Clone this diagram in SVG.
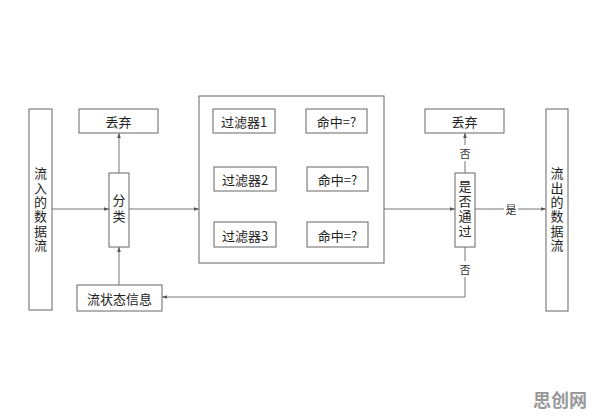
<svg xmlns="http://www.w3.org/2000/svg" width="596" height="420" viewBox="0 0 596 420">
<style>
.box{fill:#fff;stroke:#666;stroke-width:1}
.ln{fill:none;stroke:#777;stroke-width:1}
.t{font-family:"Noto Sans CJK SC","Liberation Serif",sans-serif;font-size:13px;fill:#222;text-anchor:middle;dominant-baseline:central}
.v{font-family:"Noto Sans CJK SC",sans-serif;font-size:13px;fill:#222;text-anchor:middle;writing-mode:vertical-rl;text-orientation:upright}
.lbl{font-family:"Noto Sans CJK SC",sans-serif;font-size:11px;fill:#333;text-anchor:middle;dominant-baseline:central}
</style>
<defs>
<marker id="ar" viewBox="0 0 6 6" refX="6" refY="3" markerWidth="5" markerHeight="5" orient="auto">
<path d="M0,0.8 L6,3 L0,5.2 z" fill="#555"/>
</marker>
</defs>
<rect width="596" height="420" fill="#fff"/>
<g id="connectors">
<line class="ln" x1="52" y1="209" x2="109" y2="209" marker-end="url(#ar)"/>
<line class="ln" x1="119" y1="173" x2="119" y2="133" marker-end="url(#ar)"/>
<line class="ln" x1="119" y1="285" x2="119" y2="247" marker-end="url(#ar)"/>
<line class="ln" x1="129" y1="209" x2="199" y2="209" marker-end="url(#ar)"/>
<line class="ln" x1="275" y1="121" x2="306" y2="121" marker-end="url(#ar)"/>
<line class="ln" x1="276" y1="179" x2="307" y2="179" marker-end="url(#ar)"/>
<line class="ln" x1="276" y1="235" x2="307" y2="235" marker-end="url(#ar)"/>
<line class="ln" x1="384" y1="209" x2="455" y2="209" marker-end="url(#ar)"/>
<line class="ln" x1="465" y1="173" x2="465" y2="133" marker-end="url(#ar)"/>
<polyline class="ln" points="465,247 465,297 162,297" marker-end="url(#ar)"/>
<line class="ln" x1="475" y1="209" x2="546" y2="209" marker-end="url(#ar)"/>
<rect x="458" y="145" width="14" height="16" fill="#fff"/>
<text class="lbl" x="465" y="153">否</text>
<rect x="458" y="261" width="14" height="16" fill="#fff"/>
<text class="lbl" x="465" y="269">否</text>
<rect x="504" y="201" width="14" height="16" fill="#fff"/>
<text class="lbl" x="511" y="209">是</text>
</g>
<g id="input">
<rect class="box" x="29" y="109" width="23" height="201"/>
<text class="v" x="40.5" y="210" letter-spacing="1.4">流入的数据流</text>
</g>
<g id="discard1">
<rect class="box" x="79" y="109" width="79" height="24"/>
<text class="t" x="118.5" y="121">丢弃</text>
</g>
<g id="classify">
<rect class="box" x="109" y="173" width="20" height="74"/>
<text class="v" x="119" y="210" letter-spacing="3">分类</text>
</g>
<g id="state">
<rect class="box" x="77" y="285" width="85" height="26"/>
<text class="t" x="119.5" y="298">流状态信息</text>
</g>
<g id="filterbox">
<rect class="box" x="199" y="96" width="185" height="167"/>
</g>
<g id="f1">
<rect class="box" x="213" y="109" width="62" height="24"/>
<text class="t" x="244" y="121">过滤器1</text>
</g>
<g id="h1">
<rect class="box" x="306" y="109" width="61" height="24"/>
<text class="t" x="336.5" y="121">命中=?</text>
</g>
<g id="f2">
<rect class="box" x="214" y="167" width="62" height="24"/>
<text class="t" x="245" y="179">过滤器2</text>
</g>
<g id="h2">
<rect class="box" x="307" y="167" width="61" height="24"/>
<text class="t" x="337.5" y="179">命中=?</text>
</g>
<g id="f3">
<rect class="box" x="214" y="222" width="62" height="25"/>
<text class="t" x="245" y="235">过滤器3</text>
</g>
<g id="h3">
<rect class="box" x="307" y="222" width="61" height="25"/>
<text class="t" x="337.5" y="235">命中=?</text>
</g>
<g id="pass">
<rect class="box" x="455" y="173" width="20" height="74"/>
<text class="v" x="465" y="210" letter-spacing="2">是否通过</text>
</g>
<g id="discard2">
<rect class="box" x="425" y="109" width="79" height="24"/>
<text class="t" x="464.5" y="121">丢弃</text>
</g>
<g id="output">
<rect class="box" x="546" y="109" width="22" height="202"/>
<text class="v" x="557" y="210" letter-spacing="1.4">流出的数据流</text>
</g>
<text x="560" y="399" font-family="Noto Sans CJK SC, sans-serif" font-size="18" font-weight="bold" fill="#999" text-anchor="middle" dominant-baseline="central">思创网</text>
</svg>
